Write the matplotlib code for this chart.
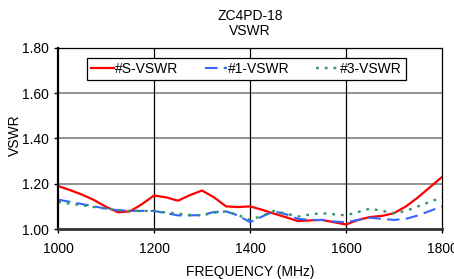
import numpy as np
import matplotlib
matplotlib.use("Agg")
import matplotlib.pyplot as plt

plt.rcParams['font.family'] = ['Liberation Sans', 'DejaVu Sans']

freq = [1000, 1025, 1050, 1075, 1100, 1125, 1150, 1175, 1200, 1225, 1250,
        1275, 1300, 1325, 1350, 1375, 1400, 1425, 1450, 1475, 1500, 1525,
        1550, 1575, 1600, 1625, 1650, 1675, 1700, 1725, 1750, 1775, 1800]

vswr_s = [1.190, 1.172, 1.152, 1.128, 1.098, 1.074, 1.078, 1.110, 1.148, 1.140, 1.125,
          1.150, 1.170, 1.140, 1.100, 1.097, 1.100, 1.085, 1.068, 1.052, 1.035, 1.038,
          1.040, 1.030, 1.020, 1.040, 1.053, 1.058, 1.070, 1.100, 1.140, 1.185, 1.230]

vswr_1 = [1.130, 1.120, 1.110, 1.100, 1.090, 1.083, 1.080, 1.080, 1.080, 1.070, 1.060,
          1.060, 1.062, 1.075, 1.078, 1.060, 1.030, 1.055, 1.078, 1.065, 1.045, 1.040,
          1.040, 1.033, 1.030, 1.040, 1.050, 1.045, 1.040, 1.045, 1.060, 1.080, 1.100]

vswr_3 = [1.120, 1.112, 1.105, 1.097, 1.090, 1.084, 1.080, 1.080, 1.080, 1.073, 1.068,
          1.062, 1.060, 1.072, 1.078, 1.062, 1.040, 1.058, 1.080, 1.068, 1.055, 1.064,
          1.070, 1.065, 1.060, 1.075, 1.090, 1.080, 1.070, 1.080, 1.100, 1.120, 1.140]

fig = plt.figure(figsize=(4.54, 2.79), dpi=100)
ax = fig.add_axes([0.1278, 0.1792, 0.8458, 0.6488])

ax.plot(freq, vswr_s, color='#FF0000', lw=1.6, label='#S-VSWR')
ax.plot(freq, vswr_1, color='#3366FF', lw=1.5, ls=(0, (6, 3)), label='#1-VSWR')
ax.plot(freq, vswr_3, color='#339966', lw=1.7, ls=(0, (1.2, 2.5)), label='#3-VSWR')

ax.set_xlim(1000, 1800)
ax.set_ylim(1.00, 1.80)
ax.set_xticks([1000, 1200, 1400, 1600, 1800])
ax.set_yticks([1.00, 1.20, 1.40, 1.60, 1.80])
ax.set_yticklabels(['1.00', '1.20', '1.40', '1.60', '1.80'])
ax.tick_params(labelsize=10, length=3, width=1)
ax.tick_params(axis='x', pad=6)

for y in [1.20, 1.40, 1.60]:
    ax.axhline(y, color='#808080', lw=1.2, zorder=0)
for x in [1200, 1400, 1600]:
    ax.axvline(x, color='black', lw=0.9, zorder=0)

for side in ['top', 'right']:
    ax.spines[side].set_linewidth(0.9)
ax.spines['left'].set_linewidth(1.6)
ax.spines['bottom'].set_linewidth(2.0)
ax.spines['bottom'].set_color('#333333')

ax.set_title('ZC4PD-18\nVSWR', fontsize=10, pad=9, linespacing=1.1)
ax.set_xlabel('FREQUENCY (MHz)', fontsize=10, labelpad=7)
ax.set_ylabel('VSWR', fontsize=10)
ax.yaxis.set_label_coords(-0.094, 0.52)

leg = ax.legend(loc='upper center', bbox_to_anchor=(0.491, 0.985), ncol=3,
                fontsize=10, frameon=True, fancybox=False, handlelength=1.6,
                handletextpad=0.1, columnspacing=1.9, borderpad=0.3,
                edgecolor='black', framealpha=1)
leg.get_frame().set_linewidth(0.9)

plt.savefig('out.png', dpi=100)
